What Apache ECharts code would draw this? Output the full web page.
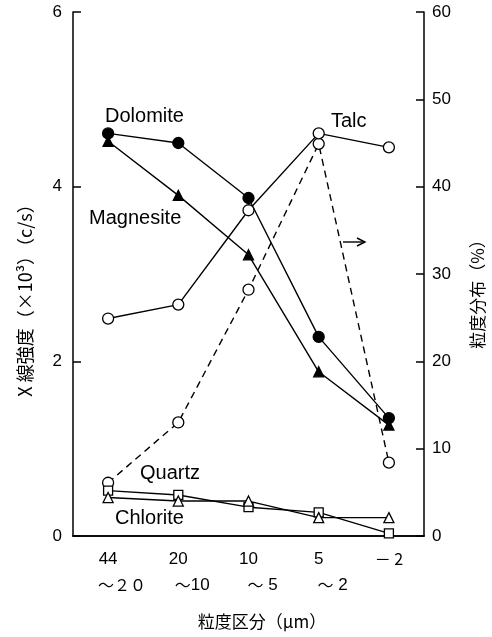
<!DOCTYPE html>
<html>
<head>
<meta charset="utf-8">
<script src="https://cdn.jsdelivr.net/npm/echarts@6/dist/echarts.min.js"></script>
<style>html,body{margin:0;padding:0;background:#fff;}#c{width:492px;height:637px;}</style>
</head>
<body>
<div id="c"></div>
<script>
var categories = ['44|～|２０', '20|～|10', '10|～| 5', '5|～| 2', '－ 2'];
var dolomite  = [4.61, 4.50, 3.87, 2.28, 1.35];
var magnesite = [4.52, 3.90, 3.22, 1.88, 1.27];
var talc      = [2.49, 2.65, 3.73, 4.61, 4.45];
var quartz    = [0.52, 0.47, 0.33, 0.27, 0.03];
var chlorite  = [0.44, 0.40, 0.40, 0.21, 0.21];
var distribution = [6.1, 13.0, 28.2, 44.9, 8.4];
var leftTicks = [0, 2, 4, 6];
var rightTicks = [0, 10, 20, 30, 40, 50, 60];

var FONT = "'Liberation Sans',Arial,sans-serif";
var CJK = "'Noto Sans CJK JP','Noto Sans',sans-serif";
var chart = echarts.init(document.getElementById('c'), null, {renderer: 'canvas'});

function solid(name, data, symbol, size, fill) {
  return {
    name: name, type: 'line', data: data, yAxisIndex: 0,
    symbol: symbol, symbolSize: size, showAllSymbol: true,
    lineStyle: {color: '#000', width: 1.4},
    itemStyle: {color: fill, borderColor: '#000', borderWidth: 1.3},
    z: 3
  };
}
function note(text, x, y) {
  return {type: 'text', x: x, y: y,
    style: {text: text, font: '20px ' + FONT, fill: '#000', align: 'left', verticalAlign: 'middle'}};
}

var option = {
  animation: false,
  backgroundColor: '#fff',
  grid: {left: 73, right: 68, top: 12, bottom: 101},
  xAxis: [{
    type: 'category', data: categories, boundaryGap: true, position: 'bottom',
    axisLine: {lineStyle: {color: '#000', width: 1.5}},
    axisTick: {inside: true, alignWithLabel: true, length: 7, lineStyle: {color: '#000', width: 1.5}},
    axisLabel: {
      color: '#000', margin: 10, interval: 0, hideOverlap: false,
      formatter: function (v) {
        var p = v.split('|');
        if (p.length === 1) return '{c|' + p[0] + '}';
        var digitStyle = /[０-９]/.test(p[2]) ? 'f' : 'd';
        return '{a|' + p[0] + '}\n{w|' + p[1] + '}{' + digitStyle + '|' + p[2] + '}';
      },
      rich: {
        a: {fontSize: 17, fontFamily: FONT, color: '#000', lineHeight: 26},
        w: {fontSize: 16, fontFamily: CJK, color: '#000', lineHeight: 26, padding: [0, 0, 0, 28]},
        d: {fontSize: 17, fontFamily: FONT, color: '#000', lineHeight: 26},
        f: {fontSize: 16, fontFamily: CJK, color: '#000', lineHeight: 26},
        c: {fontSize: 16, fontFamily: CJK, color: '#000', lineHeight: 26}
      }
    },
    splitLine: {show: false}
  }, {
    type: 'category', data: categories, boundaryGap: true, position: 'top',
    axisLine: {lineStyle: {color: '#000', width: 1.5}},
    axisTick: {inside: true, alignWithLabel: true, interval: 0, length: 6, lineStyle: {color: '#000', width: 1.5}},
    axisLabel: {show: false}, splitLine: {show: false}
  }],
  yAxis: [{
    type: 'value', min: leftTicks[0], max: leftTicks[leftTicks.length - 1], interval: 2, position: 'left',
    axisLine: {show: true, lineStyle: {color: '#000', width: 1.5}},
    axisTick: {show: true, inside: true, length: 8, lineStyle: {color: '#000', width: 1.5}},
    axisLabel: {color: '#000', fontSize: 17, fontFamily: FONT, margin: 11},
    splitLine: {show: false}
  }, {
    type: 'value', min: rightTicks[0], max: rightTicks[rightTicks.length - 1], interval: 10, position: 'right',
    axisLine: {show: true, lineStyle: {color: '#000', width: 1.5}},
    axisTick: {show: true, inside: true, length: 8, lineStyle: {color: '#000', width: 1.5}},
    axisLabel: {color: '#000', fontSize: 17, fontFamily: FONT, margin: 8},
    splitLine: {show: false}
  }],
  series: [
    solid('Dolomite', dolomite, 'circle', 11, '#000'),
    solid('Magnesite', magnesite, 'triangle', 10, '#000'),
    solid('Talc', talc, 'circle', 11, '#fff'),
    solid('Quartz', quartz, 'rect', 9, '#fff'),
    solid('Chlorite', chlorite, 'triangle', 10, '#fff'),
    {
      name: 'distribution', type: 'line', data: distribution, yAxisIndex: 1,
      symbol: 'circle', symbolSize: 11, showAllSymbol: true,
      lineStyle: {color: '#000', width: 1.4, type: [7, 5]},
      itemStyle: {color: '#fff', borderColor: '#000', borderWidth: 1.3},
      z: 2
    }
  ],
  graphic: [
    note('Dolomite', 105, 116),
    note('Magnesite', 89, 218),
    note('Talc', 331, 121),
    note('Quartz', 140, 473),
    note('Chlorite', 115, 518),
    {type: 'line', shape: {x1: 343, y1: 242, x2: 364, y2: 242}, style: {stroke: '#000', lineWidth: 1.4}},
    {type: 'polyline', shape: {points: [[357, 238], [365, 242], [357, 246]]}, style: {stroke: '#000', lineWidth: 1.4, fill: null}},
    {type: 'text', x: 25, y: 296, rotation: Math.PI / 2,
      style: {text: 'X 線強度（×10³）（c/s）', font: '18px ' + CJK, fill: '#000', align: 'center', verticalAlign: 'middle'}},
    {type: 'text', x: 478, y: 290, rotation: Math.PI / 2,
      style: {text: '粒度分布（%）', font: '17px ' + CJK, fill: '#000', align: 'center', verticalAlign: 'middle'}},
    {type: 'text', x: 262, y: 622,
      style: {text: '粒度区分（μm）', font: '17px ' + CJK, fill: '#000', align: 'center', verticalAlign: 'middle'}}
  ]
};
chart.setOption(option);
</script>
</body>
</html>
